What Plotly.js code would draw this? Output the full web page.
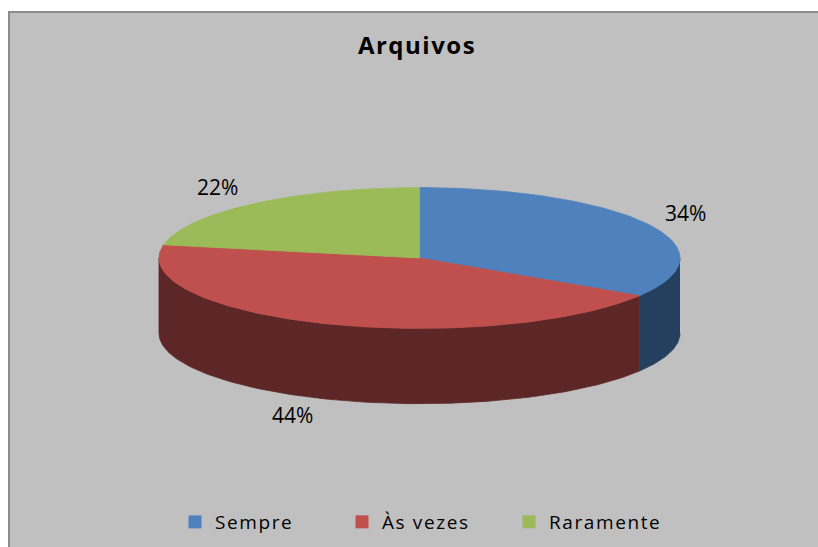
<!DOCTYPE html>
<html>
<head>
<meta charset="utf-8">
<script src="https://cdn.plot.ly/plotly-3.0.1.min.js"></script>
<style>
  html, body { margin: 0; padding: 0; background: #ffffff; overflow: hidden; }
  #chart { position: absolute; left: 8px; top: 11px; width: 810px; height: 536px;
           border-top: 2px solid #8c8c8c; border-left: 2px solid #8c8c8c; background: #c0c0c0; }
  .gtitle { letter-spacing: 1.5px; }
  .legendtext { letter-spacing: 1.6px; }
</style>
</head>
<body>
<div id="chart"></div>
<script>
// ---- data ----
const categories = ['Sempre', 'Às vezes', 'Raramente'];
const values = [34, 44, 22];
const chartTitle = 'Arquivos';

// ---- styles ----
const topColors = ['#4F81BD', '#C0504D', '#9BBB59'];
const sideColors = ['#253F5F', '#5E2727', '#4E6130'];

// ---- 3D pie geometry (unit = horizontal radius) ----
const TILT = 0.2703;   // vertical radius / horizontal radius
const DEPTH = 0.289;   // thickness of the pie
const LABEL_GAP = 38 / 260.5;

const total = values.reduce((a, b) => a + b, 0);
function pt(deg, drop) {
  const r = deg * Math.PI / 180;
  return [Math.sin(r), Math.cos(r) * TILT - (drop || 0)];
}
function arc(a0, a1, drop) {
  const xs = [], ys = [];
  const n = Math.max(2, Math.ceil(Math.abs(a1 - a0)));
  for (let i = 0; i <= n; i++) {
    const p = pt(a0 + (a1 - a0) * i / n, drop);
    xs.push(p[0]); ys.push(p[1]);
  }
  return [xs, ys];
}

let start = 0;
const slices = values.map((v, i) => {
  const a0 = start, a1 = start + v / total * 360;
  start = a1;
  return { a0, a1, i };
});

const traces = [];
// side walls (front half only: 90..270 deg clockwise from top)
slices.forEach(s => {
  const s0 = Math.max(s.a0, 90), s1 = Math.min(s.a1, 270);
  if (s1 <= s0) return;
  const top = arc(s0, s1, 0);
  const bot = arc(s1, s0, DEPTH);
  traces.push({
    type: 'scatter', mode: 'lines', fill: 'toself',
    x: top[0].concat(bot[0]), y: top[1].concat(bot[1]),
    fillcolor: sideColors[s.i], line: { color: sideColors[s.i], width: 0.8 },
    hoverinfo: 'skip', showlegend: false
  });
});
// top faces
slices.forEach(s => {
  const a = arc(s.a0, s.a1, 0);
  traces.push({
    type: 'scatter', mode: 'lines', fill: 'toself',
    x: [0].concat(a[0], [0]), y: [0].concat(a[1], [0]),
    fillcolor: topColors[s.i], line: { color: topColors[s.i], width: 0.8 },
    hoverinfo: 'skip', showlegend: false
  });
});
// legend entries
categories.forEach((c, i) => {
  traces.push({
    type: 'scatter', mode: 'markers', x: [null], y: [null], name: c,
    marker: { symbol: 'square', size: 13, color: topColors[i] },
    showlegend: true
  });
});

// percentage labels outside the slices
const annotations = slices.map(s => {
  const mid = (s.a0 + s.a1) / 2;
  const r = mid * Math.PI / 180;
  const front = Math.cos(r) < 0;
  const edge = pt(mid, front ? DEPTH : 0);
  const dx = Math.sin(r), dy = Math.cos(r) * TILT;
  const len = Math.hypot(dx, dy);
  return {
    x: edge[0] + dx / len * LABEL_GAP,
    y: edge[1] + dy / len * LABEL_GAP,
    xref: 'x', yref: 'y', showarrow: false, yshift: 5,
    text: Math.round(values[s.i] / total * 100) + '%',
    font: { family: 'Open Sans, sans-serif', size: 21, color: '#000000' },
    xanchor: 'center', yanchor: 'middle'
  };
});

const W = 808, H = 534, PX = 260.5, CX = 419.5 - 10, CY = 258 - 13;
const layout = {
  width: W, height: H,
  margin: { l: 0, r: 0, t: 0, b: 0 },
  paper_bgcolor: '#c0c0c0', plot_bgcolor: '#c0c0c0',
  title: {
    text: '<b>' + chartTitle + '</b>',
    font: { family: 'Open Sans, sans-serif', size: 24, color: '#000000' },
    x: (417 - 10) / W, xref: 'container', xanchor: 'center',
    y: 1 - (46 - 13) / H, yref: 'container', yanchor: 'middle'
  },
  xaxis: { range: [-CX / PX, (W - CX) / PX], visible: false, fixedrange: true },
  yaxis: { range: [-(H - CY) / PX, CY / PX], visible: false, fixedrange: true },
  showlegend: true,
  legend: {
    orientation: 'h', x: (175 - 10) / W, xanchor: 'left',
    y: 1 - (522 - 13) / H, yanchor: 'middle',
    font: { family: 'Open Sans, sans-serif', size: 19, color: '#000000' },
    bgcolor: 'rgba(0,0,0,0)', entrywidth: 122, entrywidthmode: 'pixels',
    itemclick: false, itemdoubleclick: false
  },
  annotations: annotations
};

Plotly.newPlot('chart', traces, layout, { displayModeBar: false, staticPlot: true });
</script>
</body>
</html>
